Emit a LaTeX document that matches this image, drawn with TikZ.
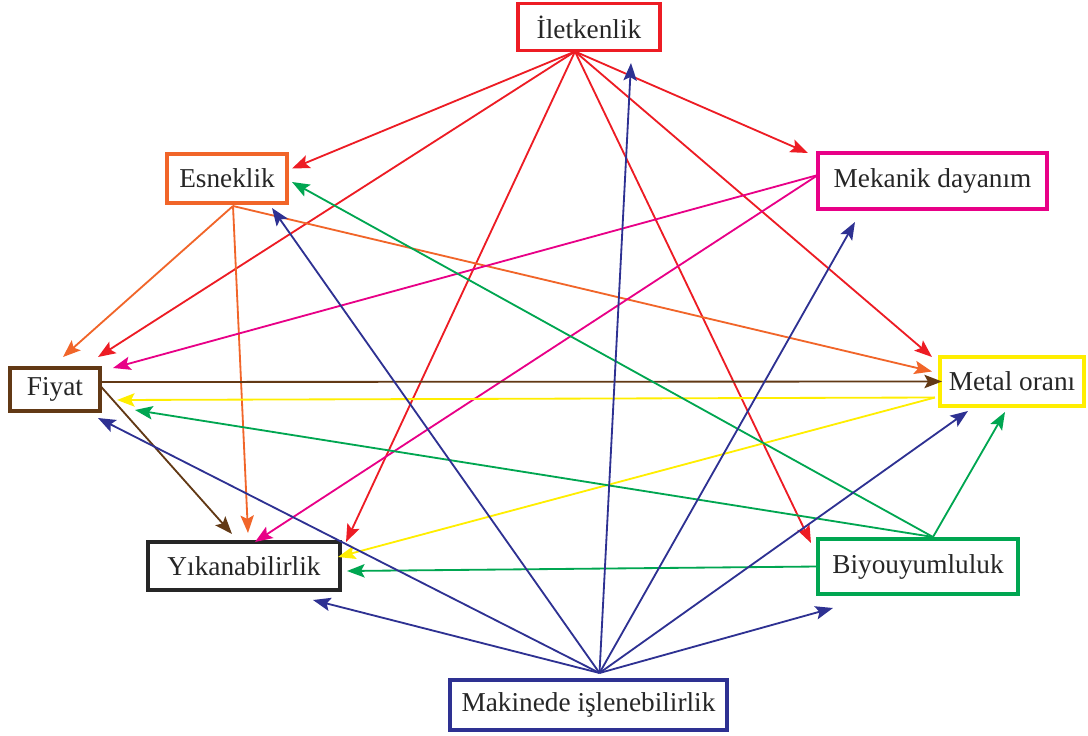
\documentclass[tikz,border=0pt]{standalone}
\usepackage{fontspec}
\setmainfont{Liberation Serif}
\usepackage{tikz}
\usetikzlibrary{arrows.meta,calc}

\definecolor{iletred}{RGB}{237,28,36}
\definecolor{esnorange}{RGB}{241,101,41}
\definecolor{mekpink}{RGB}{232,0,135}
\definecolor{fiybrown}{RGB}{98,57,21}
\definecolor{metyellow}{RGB}{255,238,0}
\definecolor{biygreen}{RGB}{0,166,81}
\definecolor{makblue}{RGB}{46,49,146}

\begin{document}
\begin{tikzpicture}[
        x=0.025cm,
        y=-0.025cm,
        every node/.style={font=\fontsize{19.4}{23}\selectfont, text=black!85},
        box/.style={
            rectangle,
            draw,
            line width=2.4pt,
            fill=white,
            inner sep=0pt,
            outer sep=0pt
        },
        arrow/.style={
            -{Stealth[length=12.5pt,width=9.5pt,inset=2.5pt]},
            line width=1.3pt
        }
    ]

    \useasboundingbox[fill=white] (0,0) rectangle (1088,736);

    % criteria
    \node[box, draw=iletred, minimum width=3.55cm, minimum height=1.175cm] (ilet) at (589,27) {İletkenlik};
    \node[box, draw=esnorange, minimum width=3.0cm, minimum height=1.225cm] (esnek) at (227,178.5) {Esneklik};
    \node[box, draw=mekpink, minimum width=5.725cm, minimum height=1.4cm] (mek) at (932.5,181) {Mekanik dayanım};
    \node[box, draw=fiybrown, minimum width=2.25cm, minimum height=1.075cm] (fiyat) at (55,389.5) {Fiyat};
    \node[box, draw=metyellow, minimum width=3.6cm, minimum height=1.225cm] (metal) at (1012,381.5) {Metal oranı};
    \node[box, draw=black!85, minimum width=4.8cm, minimum height=1.2cm] (yikan) at (244,566) {Yıkanabilirlik};
    \node[box, draw=biygreen, minimum width=5.0cm, minimum height=1.375cm] (biyo) at (918,566.5) {Biyouyumluluk};
    \node[box, draw=makblue, minimum width=6.925cm, minimum height=1.25cm] (makine) at (588.5,705) {Makinede işlenebilirlik};

    % from Iletkenlik
    \draw[arrow, iletred] ($(ilet.south)+(-14,1)$) -- ($(esnek.east)+(5,-10)$);
    \draw[arrow, iletred] ($(ilet.south)+(-14,1)$) -- ($(fiyat.north east)+(-2,-11)$);
    \draw[arrow, iletred] ($(ilet.south)+(-14,1)$) -- ($(yikan.north east)+(6,0)$);
    \draw[arrow, iletred] ($(ilet.south)+(-14,1)$) -- ($(biyo.north west)+(-7,4)$);
    \draw[arrow, iletred] ($(ilet.south)+(-14,1)$) -- ($(metal.north west)+(-8,0)$);
    \draw[arrow, iletred] ($(ilet.south)+(-14,1)$) -- ($(mek.north west)+(-10,0)$);

    % from Esneklik
    \draw[arrow, esnorange] ($(esnek.south)+(6,3)$) -- ($(fiyat.north)+(8,-11)$);
    \draw[arrow, esnorange] ($(esnek.south)+(6,3)$) -- ($(yikan.north)+(4,-9)$);
    \draw[arrow, esnorange] ($(esnek.south)+(6,3)$) -- ($(metal.west)+(-8,-10)$);

    % from Mekanik dayanim
    \draw[arrow, mekpink] ($(mek.west)+(0,-6)$) -- ($(fiyat.north east)+(13,0)$);
    \draw[arrow, mekpink] ($(mek.west)+(0,-6)$) -- ($(yikan.north)+(11,0)$);

    % from Fiyat
    \draw[arrow, fiybrown] ($(fiyat.east)+(0,-7.5)$) -- ($(metal.west)+(2,0)$);
    \draw[arrow, fiybrown] ($(fiyat.east)+(0,-4)$) -- ($(yikan.north)+(-12,-8)$);

    % from Metal orani
    \draw[arrow, metyellow] ($(metal.west)+(-5,16)$) -- ($(fiyat.east)+(17,10.5)$);
    \draw[arrow, metyellow] ($(metal.west)+(-5,16)$) -- ($(yikan.east)+(-2,-9)$);

    % from Biyouyumluluk
    \draw[arrow, biygreen] ($(biyo.north)+(15,-2)$) -- ($(esnek.east)+(5,3.5)$);
    \draw[arrow, biygreen] ($(biyo.north)+(15,-2)$) -- ($(fiyat.south east)+(35,-1)$);
    \draw[arrow, biygreen] ($(biyo.north)+(15,-2)$) -- ($(metal.south)+(-7,6)$);
    \draw[arrow, biygreen] (biyo.west) -- ($(yikan.east)+(7,5)$);

    % from Makinede islenebilirlik
    \draw[arrow, makblue] ($(makine.north)+(11,-7)$) -- ($(ilet.south)+(42,12.5)$);
    \draw[arrow, makblue] ($(makine.north)+(11,-7)$) -- ($(esnek.south east)+(-15,5)$);
    \draw[arrow, makblue] ($(makine.north)+(11,-7)$) -- ($(mek.south west)+(37,13)$);
    \draw[arrow, makblue] ($(makine.north)+(11,-7)$) -- ($(fiyat.south east)+(-2,7)$);
    \draw[arrow, makblue] ($(makine.north)+(11,-7)$) -- ($(metal.south west)+(28,5)$);
    \draw[arrow, makblue] ($(makine.north)+(11,-7)$) -- ($(yikan.south east)+(-27,10)$);
    \draw[arrow, makblue] ($(makine.north)+(11,-7)$) -- ($(biyo.south west)+(15,14)$);

\end{tikzpicture}
\end{document}
